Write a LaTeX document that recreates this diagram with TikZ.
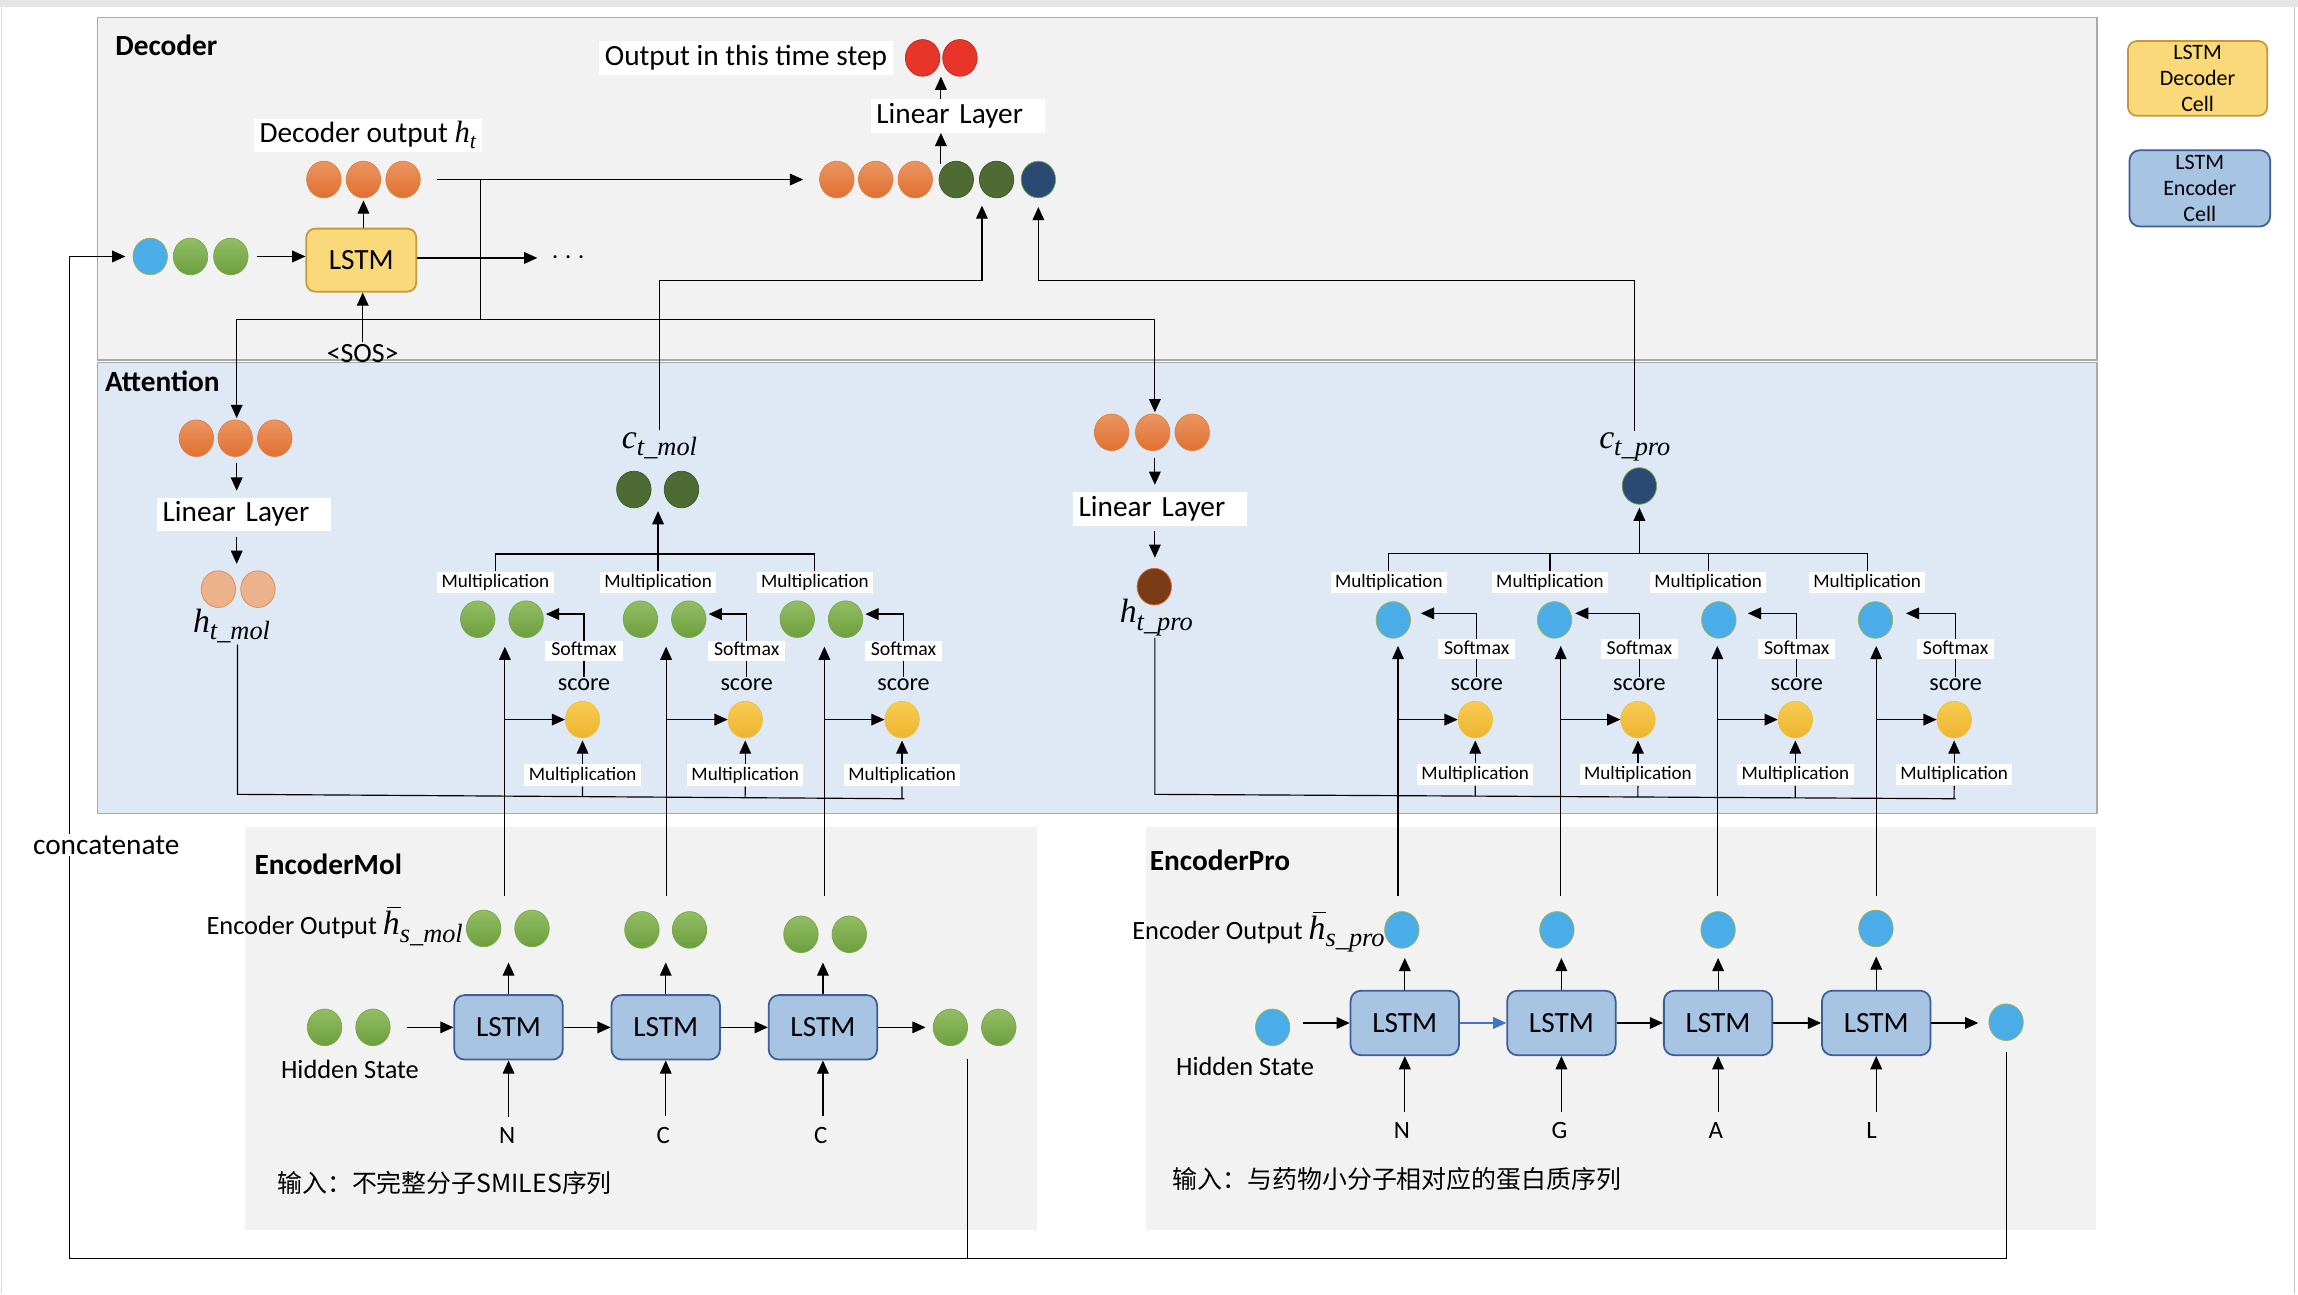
\RequirePackage{fix-cm}
\documentclass[tikz,border=0pt]{standalone}
\usepackage{fontspec}
\setmainfont{Carlito}
\newfontfamily\cjkfont{Noto Sans CJK SC}
\newfontfamily\mitf{Liberation Serif}
\usetikzlibrary{shapes.geometric,arrows.meta,calc}
\definecolor{decbg}{HTML}{F2F2F2}
\definecolor{attbg}{HTML}{DFE9F5}
\definecolor{boxln}{HTML}{A9A9A9}
\definecolor{orgT}{HTML}{EB9562}
\definecolor{orgB}{HTML}{E07030}
\definecolor{orgD}{HTML}{E0803F}
\definecolor{grnT}{HTML}{93BD64}
\definecolor{grnB}{HTML}{6C9F3E}
\definecolor{grnD}{HTML}{79A94B}
\definecolor{dgrn}{HTML}{4D6B33}
\definecolor{dgrnD}{HTML}{3E5A28}
\definecolor{dblu}{HTML}{2B4A73}
\definecolor{bluF}{HTML}{4AADE8}
\definecolor{bluD}{HTML}{9DB552}
\definecolor{redc}{HTML}{E8352A}
\definecolor{yelT}{HTML}{F7CB52}
\definecolor{yelB}{HTML}{EDB52E}
\definecolor{yelD}{HTML}{F0C040}
\definecolor{peach}{HTML}{EBB28C}
\definecolor{peachD}{HTML}{E38A4E}
\definecolor{brownc}{HTML}{7A3C16}
\definecolor{lstmDF}{HTML}{FAD97A}
\definecolor{lstmDD}{HTML}{C49A38}
\definecolor{lstmEF}{HTML}{A7C4E3}
\definecolor{lstmED}{HTML}{3F5E96}
\definecolor{arrblue}{HTML}{4472C4}
\newcommand\fszL{\fontsize{20}{24}\selectfont}
\newcommand\fszM{\fontsize{13}{15}\selectfont}
\newcommand\fszS{\fontsize{13.5}{15}\selectfont}
\newcommand\fszSc{\fontsize{16.5}{19}\selectfont}
\newcommand\fszH{\fontsize{18}{21}\selectfont}
\newcommand\fszG{\fontsize{15}{18}\selectfont}
\newcommand\fszI{\fontsize{17}{20}\selectfont}
% italic symbol with subscript
\newcommand\isym[2]{{\mitf\itshape\fontsize{23}{25}\selectfont #1}\raisebox{-5pt}{\mitf\itshape\fontsize{18}{20}\selectfont #2}}
\newcommand\isymS[2]{{\mitf\itshape\fontsize{21}{23}\selectfont #1}\raisebox{-4pt}{\mitf\itshape\fontsize{15}{17}\selectfont #2}}
\newcommand\barh{\makebox[0pt][l]{\hspace{3pt}\raisebox{18pt}{\rule{9pt}{1.1pt}}}h}
\begin{document}
\begin{tikzpicture}[x=1pt,y=-1pt,
 ell/.style={ellipse,inner sep=0pt,minimum width=23.5pt,minimum height=25pt,line width=0.5pt},
 org/.style={ell,draw=orgD,top color=orgT,bottom color=orgB},
 grn/.style={ell,draw=grnD,top color=grnT,bottom color=grnB},
 dgr/.style={ell,draw=dgrnD,fill=dgrn},
 dbl/.style={ell,draw=grnD,fill=dblu},
 blu/.style={ell,draw=bluD,fill=bluF},
 redell/.style={ell,draw=redc!80!black,fill=redc},
 yel/.style={ell,draw=yelD,top color=yelT,bottom color=yelB},
 pch/.style={ell,draw=peachD,fill=peach},
 brn/.style={ell,draw=orgB,fill=brownc},
 lbl/.style={fill=white,font=\fszL,inner xsep=4pt,inner ysep=2pt,text height=14.5pt,text depth=4.5pt},
 lin/.style={lbl,text width=111pt,align=left},
 mlbl/.style={fill=white,font=\fszM,inner xsep=3pt,inner ysep=1.3pt,text height=9.5pt,text depth=2.8pt},
 slbl/.style={fill=white,font=\fszS,inner xsep=4pt,inner ysep=0.6pt,text height=9.5pt,text depth=2.8pt},
 scl/.style={font=\fszSc,inner sep=1pt},
 mth/.style={inner sep=1pt},
 inl/.style={font=\fszI,inner sep=1pt},
 ttl/.style={font=\fszL\bfseries,anchor=west,inner sep=0pt},
 lstmD/.style={draw=lstmDD,fill=lstmDF,rounded corners=6pt,line width=1.2pt,minimum width=75pt,minimum height=43pt,font=\fszL,inner sep=0pt},
 lstmE/.style={draw=lstmED,fill=lstmEF,rounded corners=7pt,line width=1.2pt,minimum width=74pt,minimum height=44pt,font=\fszL,inner sep=0pt},
 arr/.style={line width=0.8pt,-{Triangle[length=9pt,width=8pt]}},
 ln/.style={line width=0.8pt}
]
\useasboundingbox (0,0) rectangle (1568,883);
\fill[white] (0,0) rectangle (1568,883);
\fill[black!10] (0,0) rectangle (1568,4.5);
\draw[black!22] (1565.3,4.5) -- (1565.3,883);
\draw[black!15] (1,4.5) -- (1,883);
% panels
\filldraw[fill=decbg,draw=boxln,line width=1pt] (66.5,11.8) rectangle (1430.8,245.6);
\filldraw[fill=attbg,draw=boxln,line width=1pt] (66.5,247.2) rectangle (1430.8,555);
\fill[decbg] (167,564.5) rectangle (707.5,839.5);
\fill[decbg] (781.8,564.5) rectangle (1430,839.3);
% legend
\node[lstmD,minimum width=95pt,minimum height=51pt,font=\fszG,align=center] (lg1) at (1499.5,53.5) {LSTM\\Decoder\\Cell};
\node[lstmE,minimum width=96pt,minimum height=52pt,font=\fszG,align=center] (lg2) at (1501,128.5) {LSTM\\Encoder\\Cell};
% ================= Decoder
\node[ttl] (tdec) at (78.5,31) {Decoder};
\node[lstmD] (dlstm) at (246.5,177.5) {LSTM};
\node[blu] (din1) at (102.5,175) {};
\node[grn] (din2) at (130,175) {};
\node[grn] (din3) at (157.5,175) {};
\node[org] (dout1) at (221,122.5) {};
\node[org] (dout2) at (248,122.5) {};
\node[org] (dout3) at (275,122.5) {};
\node[lbl] (doutl) at (251,92.5) {Decoder output \isymS{h}{t}};
\node[font=\fszL,inner sep=0pt] (dots) at (388,176) {$\cdots$};
\node[font=\fontsize{19}{22}\selectfont,inner sep=1pt] (sos) at (247.5,241) {<SOS>};
\node[org] (c1) at (571,122.5) {};
\node[org] (c2) at (597.5,122.5) {};
\node[org] (c3) at (624.5,122.5) {};
\node[dgr] (c4) at (652.5,122.5) {};
\node[dgr] (c5) at (680,122.5) {};
\node[dbl] (c6) at (708.5,122.5) {};
\node[lin] (linD) at (653.5,79) {Linear Layer};
\node[redell] (r1) at (629.5,39.5) {};
\node[redell] (r2) at (655,39.5) {};
\node[lbl] (outl) at (509,39.5) {Output in this time step};
\draw[arr,shorten <=6pt] (din3.east) -- (din3.east -| dlstm.west);
\draw[arr,shorten >=1.5pt] (dout2 |- dlstm.north) -- (dout2.south);
\draw[arr,shorten >=9.5pt] (dlstm.east |- dots) -- (dots.west);
\draw[arr] (sos.north) -- (sos.north |- dlstm.south);
\draw[arr,shorten <=11pt,shorten >=11pt] (dout3.east) -- (dout3.east -| c1.west);
\coordinate (jd) at (328,122.5);
\coordinate (hbarL) at (161.5,218);
\coordinate (hbarR) at (788,218);
\draw[ln] (jd) -- (jd |- hbarL);
\draw[line width=1.1pt] (hbarL) -- (hbarR);
\coordinate (cj) at (642,112);
\draw[arr] (cj) -- (cj |- linD.south);
\draw[arr] (cj |- linD.north) -- (cj |- r1.south);
% ================= Attention
\node[ttl] (tatt) at (71.5,260) {Attention};
\node[org] (a1o1) at (134,299) {};
\node[org] (a1o2) at (160.5,299) {};
\node[org] (a1o3) at (187.5,299) {};
\node[lin] (linA1) at (166.5,351) {Linear Layer};
\node[pch] (hm1) at (149,402) {};
\node[pch] (hm2) at (176,402) {};
\node[mth] (hmol) at (158,427) {\isym{h}{t\_mol}};
\draw[arr,shorten >=1pt] (hbarL) -- (hbarL |- a1o2.north);
\draw[arr,shorten <=4.5pt,shorten >=4.5pt] (hbarL |- a1o2.south) -- (hbarL |- linA1.north);
\draw[arr,shorten <=3.5pt,shorten >=4.5pt] (hbarL |- linA1.south) -- (hbarL |- hm1.north);
\coordinate (mbase) at (162,542);
\coordinate (mbaseE) at (617,545);
\draw[ln] (hmol.south -| mbase) -- (mbase) -- (mbaseE);
\node[org] (a2o1) at (758.5,295) {};
\node[org] (a2o2) at (786.5,295) {};
\node[org] (a2o3) at (813.5,295) {};
\node[lin] (linA2) at (791.5,347.5) {Linear Layer};
\node[brn] (htp) at (787.6,400.3) {};
\node[mth] (htpl) at (789,421.5) {\isym{h}{t\_pro}};
\draw[arr,shorten >=1pt] (hbarR) -- (hbarR |- a2o2.north);
\draw[arr,shorten <=5pt,shorten >=5pt] (hbarR |- a2o2.south) -- (hbarR |- linA2.north);
\draw[arr,shorten <=3pt,shorten >=7pt] (hbarR |- linA2.south) -- (hbarR |- htp.north);
\coordinate (pbase) at (788,542);
\coordinate (pbaseE) at (1334.4,545);
\draw[ln] (htpl.south -| pbase) -- (pbase) -- (pbaseE);
% context vectors
\node[dgr] (ctm1) at (432.5,334) {};
\node[dgr] (ctm2) at (465,334) {};
\node[mth] (ctml) at (450,304) {\isym{c}{t\_mol}};
\node[dbl] (ctp) at (1118.6,331.6) {};
\node[mth] (ctpl) at (1115.5,305) {\isym{c}{t\_pro}};
\coordinate (cbar1) at (670,191.5);
\coordinate (cbar2) at (708.5,191.5);
\draw[arr,shorten >=5pt] (ctml.north) |- (cbar1) -- (cbar1 |- c5.south);
\draw[arr,shorten >=6pt] (ctpl.north) |- (cbar2) -- (cbar2 |- c6.south);
% mol attention units
\foreach \m/\vx/\sx [count=\i] in {338/344.5/398.5,449/454.5/509.5,556/562.5/616.5}{
  \node[grn] (mga\i) at (\m-12,422.5) {};
  \node[grn] (mgb\i) at (\m+21,422.5) {};
  \node[mlbl] (mt\i) at (\m,397.5) {Multiplication};
  \node[slbl] (ms\i) at (\sx,444) {Softmax};
  \node[scl] (msc\i) at (\sx,467.5) {score};
  \node[yel] (my\i) at (\sx-1,491) {};
  \node[mlbl] (mb\i) at (\sx-1,529) {Multiplication};
  \coordinate (mtip\i) at (\m+34.5,419);
  \coordinate (mv\i) at (\vx,611.3);
  \draw[arr] (ms\i.north) |- (mtip\i);
  \draw[ln] (ms\i.south) -- (msc\i.north);
  \draw[arr,shorten >=1.5pt] (mb\i.north) -- (my\i.south);
  \draw[ln] (mb\i.south) -- ($(mbase)!(mb\i.south)!(mbaseE)$);
  \draw[arr,shorten >=6pt] (mv\i) -- (mv\i |- mga\i.south);
  \draw[arr] (mv\i |- my\i.west) -- (my\i.west);
}
\coordinate (mtop) at (449,378);
\draw[ln] (mt1.north) -- (mt1.north |- mtop) -- (mt3.north |- mtop) -- (mt3.north);
\draw[arr,shorten >=2pt] (mt2.north) -- (mt2.north |- ctm1.south);
% pro attention units
\foreach \m/\b/\vx/\sx/\tp [count=\i] in {947.6/950.7/953.9/1007.6/969.5,1057.6/1060.7/1064.9/1118.6/1074.8,1165.5/1172.8/1171.8/1226/1192.6,1274/1279.7/1280.2/1334.4/1300.5}{
  \node[blu] (pbl\i) at (\b,423) {};
  \node[mlbl] (pt\i) at (\m,397.5) {Multiplication};
  \node[slbl] (ps\i) at (\sx,443) {Softmax};
  \node[scl] (psc\i) at (\sx,467.5) {score};
  \node[yel] (py\i) at (\sx-1,491) {};
  \node[mlbl] (pb\i) at (\sx-1,528.5) {Multiplication};
  \coordinate (ptip\i) at (\tp,418.5);
  \coordinate (pv\i) at (\vx,611.4);
  \draw[arr] (ps\i.north) |- (ptip\i);
  \draw[ln] (ps\i.south) -- (psc\i.north);
  \draw[arr,shorten >=1.5pt] (pb\i.north) -- (py\i.south);
  \draw[ln] (pb\i.south) -- ($(pbase)!(pb\i.south)!(pbaseE)$);
  \draw[arr,shorten >=5pt] (pv\i) -- (pv\i |- pbl\i.south);
  \draw[arr] (pv\i |- py\i.west) -- (py\i.west);
}
\coordinate (ptop) at (1118.6,377.5);
\draw[ln] (pt1.north) -- (pt1.north |- ptop) -- (pt4.north |- ptop) -- (pt4.north);
\draw[ln] (pt2.north) -- (pt2.north |- ptop);
\draw[ln] (pt3.north) -- (pt3.north |- ptop);
\draw[arr,shorten >=2pt] (ptop) -- (ptop |- ctp.south);
% ================= EncoderMol
\node[ttl] (tem) at (173.5,589.5) {EncoderMol};
\node[grn] (hs1) at (221.5,701) {};
\node[grn] (hs2) at (254.5,701) {};
\node[font=\fszH,inner sep=1pt] (hsl1) at (238.8,730) {Hidden State};
\node[lstmE] (em1) at (347,701) {LSTM};
\node[lstmE] (em2) at (454.25,701) {LSTM};
\node[lstmE] (em3) at (561.5,701) {LSTM};
\node[grn] (mo1) at (648.5,701) {};
\node[grn] (mo2) at (681.5,701) {};
\node[grn] (eo1a) at (330,633.5) {};
\node[grn] (eo1b) at (363,633.5) {};
\node[grn] (eo2a) at (438,634.5) {};
\node[grn] (eo2b) at (470.5,634.5) {};
\node[grn] (eo3a) at (546.5,637.5) {};
\node[grn] (eo3b) at (579.5,637.5) {};
\node[anchor=east,inner sep=0pt] (eoml) at (316,632) {{\fszH Encoder Output }\isym{\barh}{s\_mol}};
\node[inl] (min1) at (346,774.5) {N};
\node[inl] (min2) at (452.5,774.5) {C};
\node[inl] (min3) at (560,774.5) {C};
\node[anchor=west,font=\cjkfont\fszI,inner sep=0pt] (mcn) at (189,807.4) {输入：不完整分子SMILES序列};
\draw[arr,shorten <=11.5pt] (hs2.east) -- (hs2.east -| em1.west);
\draw[arr] (em1.east) -- (em2.west);
\draw[arr] (em2.east) -- (em3.west);
\draw[arr,shorten >=5pt] (em3.east) -- (em3.east -| mo1.west);
\draw[arr,shorten >=10.5pt] (em1.north) -- (em1.north |- eo1a.south);
\draw[arr,shorten >=9.5pt] (em2.north) -- (em2.north |- eo2a.south);
\draw[arr,shorten >=6.5pt] (em3.north) -- (em3.north |- eo3a.south);
\draw[arr,shorten <=6pt] (em1.south |- min1.north) -- (em1.south);
\draw[arr,shorten <=6pt] (em2.south |- min2.north) -- (em2.south);
\draw[arr,shorten <=6pt] (em3.south |- min3.north) -- (em3.south);
% ================= EncoderPro
\node[ttl] (tep) at (784.4,586.8) {EncoderPro};
\node[blu] (hp) at (868.4,701) {};
\node[font=\fszH,inner sep=1pt] (hsl2) at (849.5,727.8) {Hidden State};
\node[lstmE] (ep1) at (958.55,698) {LSTM};
\node[lstmE] (ep2) at (1065.4,698) {LSTM};
\node[lstmE] (ep3) at (1172.3,698) {LSTM};
\node[lstmE] (ep4) at (1280.2,698) {LSTM};
\node[blu] (po) at (1368.8,697.5) {};
\node[blu] (pe1) at (956.5,634.5) {};
\node[blu] (pe2) at (1062.3,634.5) {};
\node[blu] (pe3) at (1172.3,634.5) {};
\node[blu] (pe4) at (1280,633.5) {};
\node[anchor=east,inner sep=0pt] (eopl) at (945,636) {{\fszH Encoder Output }\isym{\barh}{s\_pro}};
\node[inl] (pin1) at (956.5,771.7) {N};
\node[inl] (pin2) at (1064,771.7) {G};
\node[inl] (pin3) at (1170.7,771.7) {A};
\node[inl] (pin4) at (1277,771.7) {L};
\node[anchor=west,font=\cjkfont\fszI,inner sep=0pt] (pcn) at (800,804.4) {输入：与药物小分子相对应的蛋白质序列};
\draw[arr,shorten <=8.5pt] (hp.east |- ep1) -- (ep1.west);
\draw[arr,draw=arrblue,fill=arrblue] (ep1.east) -- (ep2.west);
\draw[arr] (ep2.east) -- (ep3.west);
\draw[arr] (ep3.east) -- (ep4.west);
\draw[arr,shorten >=7pt] (ep4.east) -- (ep4.east -| po.west);
\foreach \k in {1,2,3,4}{
  \draw[arr,shorten >=6.4pt] (ep\k.north) -- (ep\k.north |- pe\k.south);
  \draw[arr,shorten <=6pt] (ep\k.south |- pin\k.north) -- (ep\k.south);
}
% ================= concatenate
\coordinate (mcat) at (660,722.8);
\coordinate (pcat) at (1368.8,717.6);
\coordinate (catL) at (47.5,858.6);
\draw[ln] (mcat) -- (mcat |- catL);
\draw[arr,shorten >=5pt] (pcat) |- (catL) |- (din1.west);
\node[fill=white,font=\fszL,inner sep=1pt] (catl) at (72.5,576.5) {concatenate};
\end{tikzpicture}
\end{document}
